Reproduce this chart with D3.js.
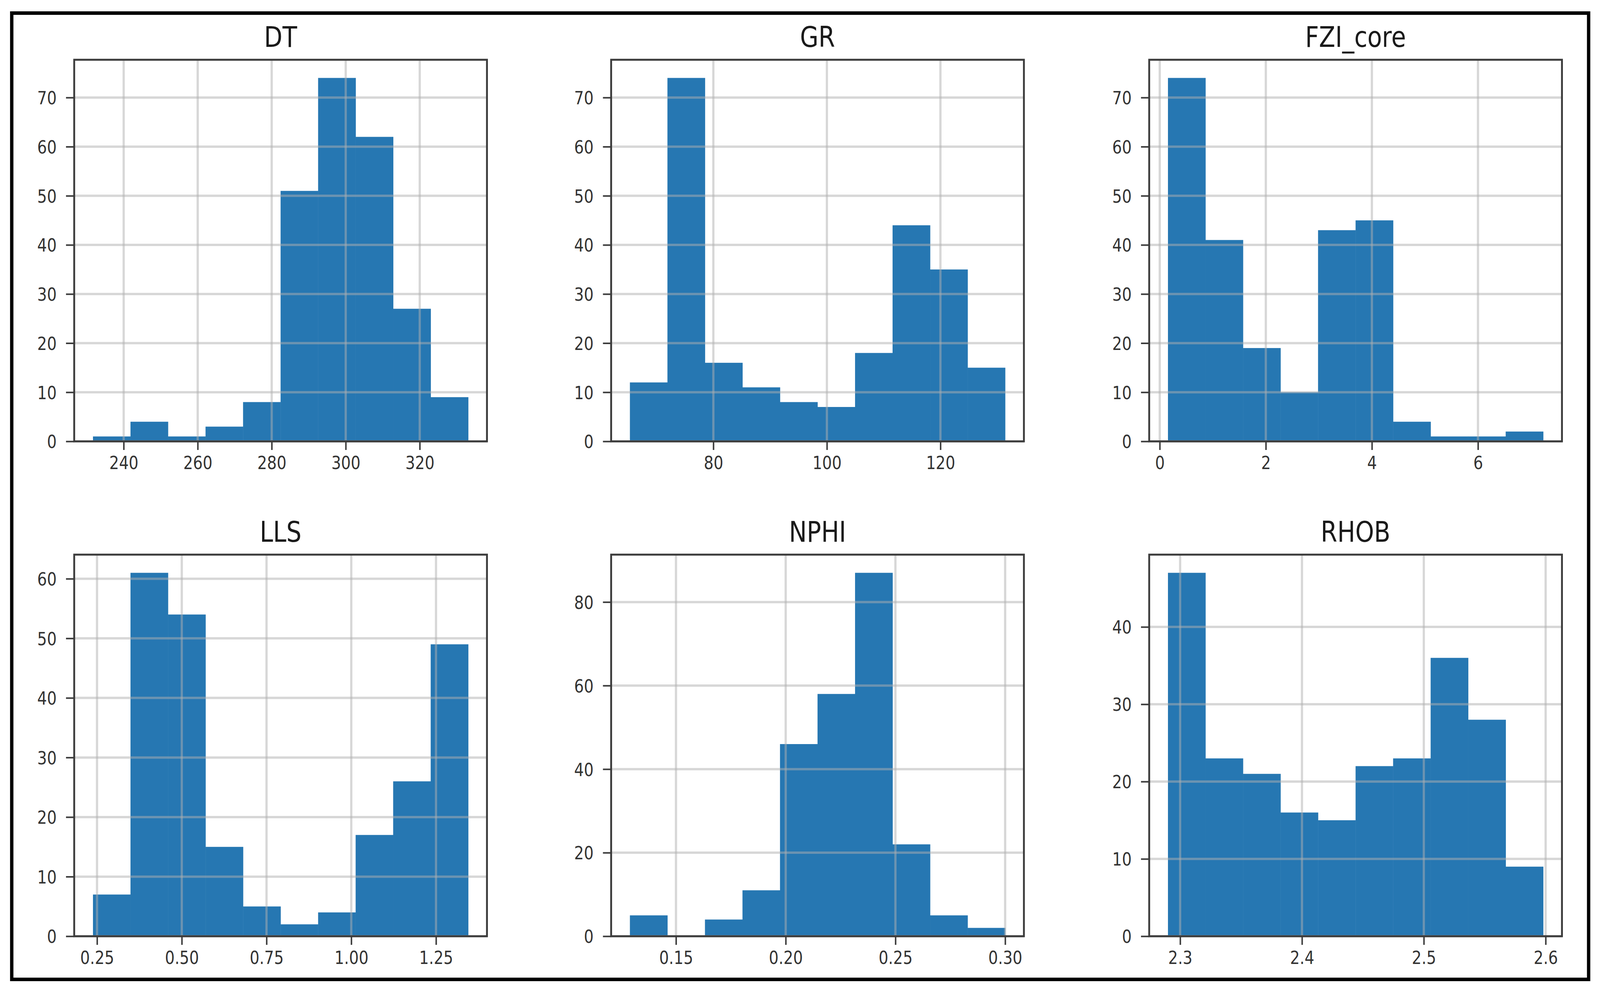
<!DOCTYPE html>
<html>
<head>
<meta charset="utf-8">
<script src="https://cdn.jsdelivr.net/npm/d3@7"></script>
<style>
  html, body { margin: 0; padding: 0; background: #ffffff; width: 100%; height: 100%; overflow: hidden; }
  #chart { width: 100vw; height: 100vh; }
  svg { display: block; width: 100vw; height: 100vh; }
</style>
</head>
<body>
<div id="chart"></div>
<script>
// ---------- DATA ----------
const titles = ["DT", "GR", "FZI_core", "LLS", "NPHI", "RHOB"];

// histogram counts (10 bins each)
const dtCounts   = [1, 4, 1, 3, 8, 51, 74, 62, 27, 9];
const grCounts   = [12, 74, 16, 11, 8, 7, 18, 44, 35, 15];
const fziCounts  = [74, 41, 19, 10, 43, 45, 4, 1, 1, 2];
const llsCounts  = [7, 61, 54, 15, 5, 2, 4, 17, 26, 49];
const nphiCounts = [5, 0, 4, 11, 46, 58, 87, 22, 5, 2];
const rhobCounts = [47, 23, 21, 16, 15, 22, 23, 36, 28, 9];

// data range (min, max) of each variable
const dtRange   = [231.7, 333.1];
const grRange   = [65.3, 131.4];
const fziRange  = [0.155, 7.23];
const llsRange  = [0.238, 1.345];
const nphiRange = [0.129, 0.300];
const rhobRange = [2.290, 2.598];

// tick labels
const dtXTicks   = [240, 260, 280, 300, 320];
const grXTicks   = [80, 100, 120];
const fziXTicks  = [0, 2, 4, 6];
const llsXTicks  = [0.25, 0.50, 0.75, 1.00, 1.25];
const nphiXTicks = [0.15, 0.20, 0.25, 0.30];
const rhobXTicks = [2.3, 2.4, 2.5, 2.6];

const dtYTicks   = [0, 10, 20, 30, 40, 50, 60, 70];
const grYTicks   = [0, 10, 20, 30, 40, 50, 60, 70];
const fziYTicks  = [0, 10, 20, 30, 40, 50, 60, 70];
const llsYTicks  = [0, 10, 20, 30, 40, 50, 60];
const nphiYTicks = [0, 20, 40, 60, 80];
const rhobYTicks = [0, 10, 20, 30, 40];

const xFormats = [d3.format("d"), d3.format("d"), d3.format("d"),
                  d3.format(".2f"), d3.format(".2f"), d3.format(".1f")];

// ---------- BUILD PANELS ----------
const panels = [
  {title: titles[0], counts: dtCounts,   range: dtRange,   xt: dtXTicks,   yt: dtYTicks},
  {title: titles[1], counts: grCounts,   range: grRange,   xt: grXTicks,   yt: grYTicks},
  {title: titles[2], counts: fziCounts,  range: fziRange,  xt: fziXTicks,  yt: fziYTicks},
  {title: titles[3], counts: llsCounts,  range: llsRange,  xt: llsXTicks,  yt: llsYTicks},
  {title: titles[4], counts: nphiCounts, range: nphiRange, xt: nphiXTicks, yt: nphiYTicks},
  {title: titles[5], counts: rhobCounts, range: rhobRange, xt: rhobXTicks, yt: rhobYTicks}
];

const W = 4291, H = 2550;
const colLeft = [199, 1639, 3082];
const rowTop = [153, 1420];
const pw = 1107, ph = 977;
const barColor = "#2677b2";
const axisColor = "#3c3c3c";
const tickFont = 41, titleFont = 64, stretch = 1.13;
const FONT = "DejaVu Sans, Verdana, sans-serif";

const svg = d3.select("#chart").append("svg")
  .attr("viewBox", `0 0 ${W} ${H}`)
  .attr("preserveAspectRatio", "none");

svg.append("rect").attr("width", W).attr("height", H).attr("fill", "#fff");

// outer frame
svg.append("rect")
  .attr("x", 31.5).attr("y", 33.5)
  .attr("width", 4229).attr("height", 2474)
  .attr("fill", "none").attr("stroke", "#000").attr("stroke-width", 9);

panels.forEach((p, i) => {
  const left = colLeft[i % 3], top = rowTop[Math.floor(i / 3)];
  const [lo, hi] = p.range;
  const span = hi - lo;
  const n = p.counts.length;
  const maxC = d3.max(p.counts);

  const x = d3.scaleLinear().domain([lo - 0.05 * span, hi + 0.05 * span]).range([0, pw]);
  const y = d3.scaleLinear().domain([0, maxC * 1.05]).range([ph, 0]);

  const g = svg.append("g").attr("transform", `translate(${left},${top})`);

  // bars
  const bins = p.counts.map((c, k) => ({
    x0: lo + k * span / n, x1: lo + (k + 1) * span / n, c: c
  }));
  g.selectAll("rect.bar").data(bins.filter(b => b.c > 0)).enter().append("rect")
    .attr("class", "bar")
    .attr("x", d => x(d.x0))
    .attr("width", d => x(d.x1) - x(d.x0) + 0.5)
    .attr("y", d => y(d.c))
    .attr("height", d => y(0) - y(d.c))
    .attr("fill", barColor);

  // grid (on top of bars, like pandas hist)
  const grid = g.append("g").attr("stroke", "#b0b0b0").attr("stroke-opacity", 0.5).attr("stroke-width", 6);
  p.xt.forEach(t => grid.append("line")
    .attr("x1", x(t)).attr("x2", x(t)).attr("y1", 0).attr("y2", ph));
  p.yt.forEach(t => grid.append("line")
    .attr("x1", 0).attr("x2", pw).attr("y1", y(t)).attr("y2", y(t)));

  // axes via d3
  const xAxis = d3.axisBottom(x).tickValues(p.xt).tickFormat(xFormats[i])
    .tickSize(22).tickPadding(14);
  const yAxis = d3.axisLeft(y).tickValues(p.yt).tickFormat(d3.format("d"))
    .tickSize(22).tickPadding(22);

  const gx = g.append("g").attr("transform", `translate(0,${ph})`).call(xAxis);
  const gy = g.append("g").call(yAxis);

  [gx, gy].forEach(a => {
    a.select(".domain").remove();
    a.selectAll(".tick line").attr("stroke", axisColor).attr("stroke-width", 4);
    a.selectAll(".tick text")
      .attr("fill", "#333")
      .attr("font-family", FONT)
      .attr("font-size", tickFont);
  });
  // vertical stretch to match the reference's aspect
  gx.selectAll(".tick text")
    .attr("dy", null).attr("y", null)
    .attr("transform", `translate(0,${22 + 14 + tickFont * 0.76 * stretch}) scale(1,${stretch})`);
  gy.selectAll(".tick text")
    .attr("dy", null).attr("x", null)
    .attr("transform", `translate(${-47},${tickFont * 0.729 * stretch / 2}) scale(1,${stretch})`);

  // spines
  g.append("rect").attr("x", 0).attr("y", 0).attr("width", pw).attr("height", ph)
    .attr("fill", "none").attr("stroke", axisColor).attr("stroke-width", 5);

  // title
  g.append("text")
    .attr("transform", `translate(${pw / 2},${-33}) scale(1,${stretch})`)
    .attr("text-anchor", "middle")
    .attr("font-family", FONT)
    .attr("font-size", titleFont)
    .attr("fill", "#1a1a1a")
    .text(p.title);
});
</script>
</body>
</html>
